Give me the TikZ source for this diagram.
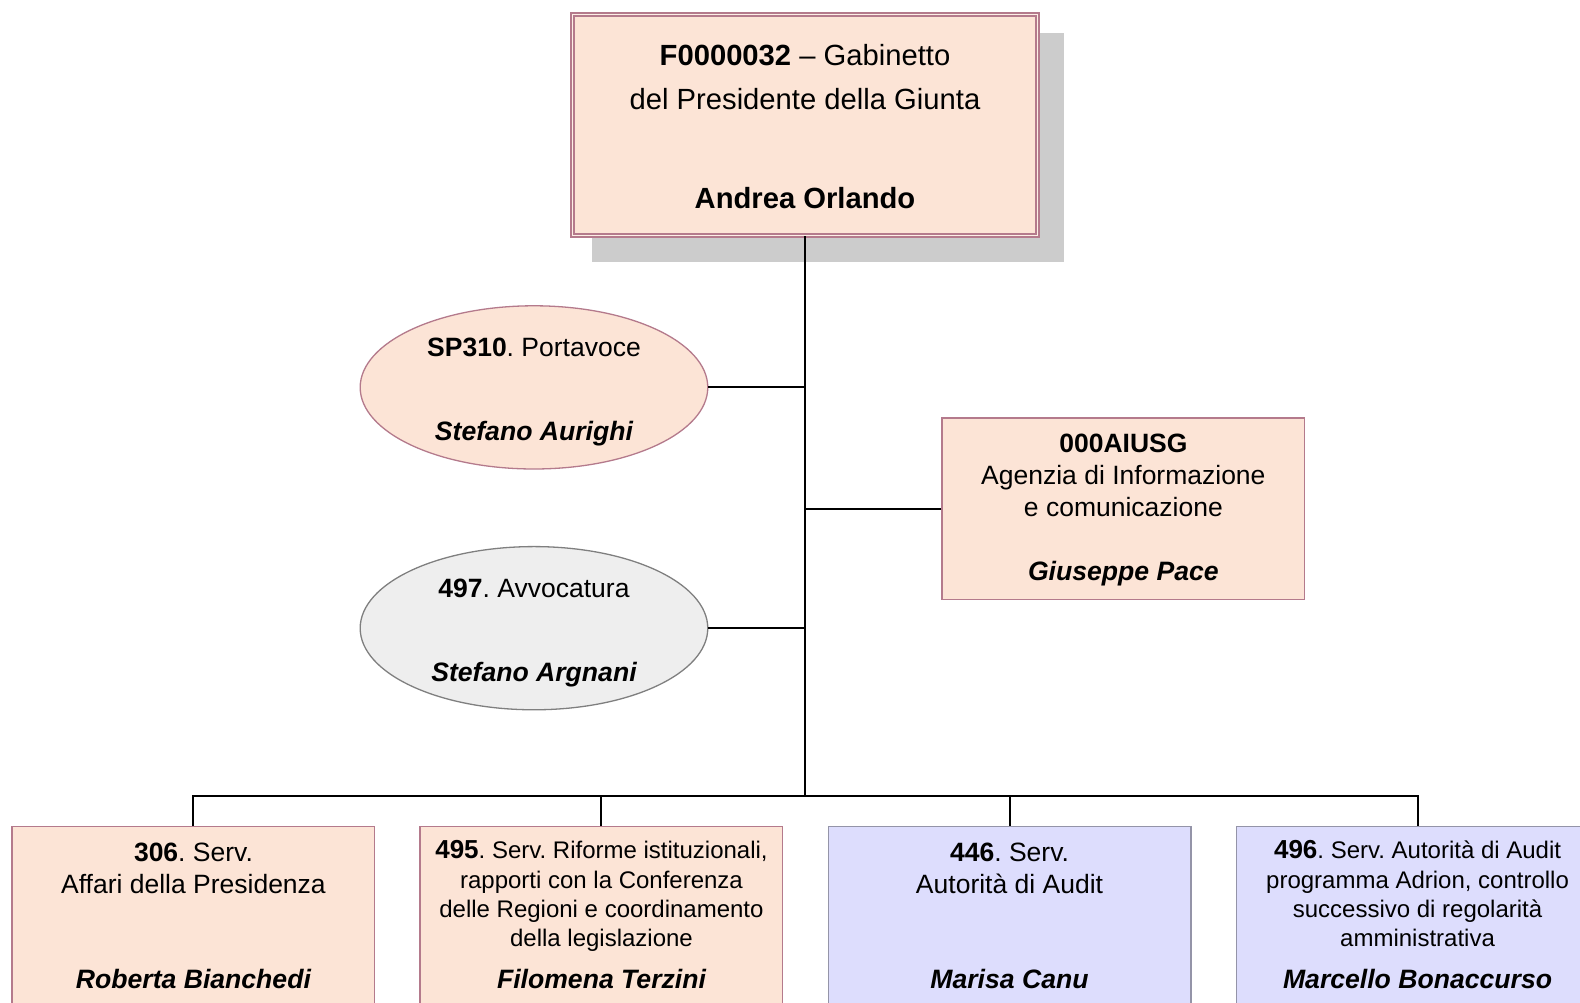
\documentclass[tikz,border=0pt]{standalone}
\usepackage{fontspec}
\setmainfont{Liberation Sans}
\usetikzlibrary{shapes.geometric}
\definecolor{peach}{HTML}{FCE4D6}
\definecolor{mauve}{HTML}{B47A8C}
\definecolor{lav}{HTML}{DDDDFD}
\definecolor{lavline}{HTML}{9494A8}
\definecolor{greyfill}{HTML}{EEEEEE}
\definecolor{greyline}{HTML}{7F7F7F}
\definecolor{shadowgrey}{HTML}{CCCCCC}
\frenchspacing
\newcommand{\bignum}[1]{{\fontsize{26}{28}\selectfont\bfseries #1}}
\begin{document}
\begin{tikzpicture}[x=1.0075pt,y=-1.0075pt,
  conn/.style={line width=2pt, draw=black},
  txt/.style={anchor=base, inner sep=0pt, font=\fontsize{26.5}{30}\selectfont},
  namefont/.style={anchor=base, inner sep=0pt, font=\fontsize{26.6}{30}\selectfont\bfseries\itshape},
  txtbig/.style={anchor=base, inner sep=0pt, font=\fontsize{29.2}{33}\selectfont},
  txtsmall/.style={anchor=base, inner sep=0pt, font=\fontsize{24}{28}\selectfont},
  peachbox/.style={rectangle, draw=mauve, fill=peach, line width=1.3pt, inner sep=0pt, minimum width=362.7, minimum height=181.4},
  lavbox/.style={rectangle, draw=lavline, fill=lav, line width=1.3pt, inner sep=0pt, minimum width=362.7, minimum height=302},
  ovalnode/.style={ellipse, line width=1.3pt, inner sep=0pt, minimum width=347.6, minimum height=163.2}
]
\useasboundingbox (0pt,0pt) rectangle (1580pt,-1002pt);
\clip (0pt,0pt) rectangle (1580pt,-1002pt);

% shadow of top box
\fill[shadowgrey] (588,33) rectangle (1056,260);

% shapes
\node[rectangle, draw=mauve, fill=peach, line width=1.8pt, double=peach!60!white, double distance=1.2pt, inner sep=0pt, minimum width=465.1, minimum height=221.2] (top) at (799,124) {};
\node[ovalnode, draw=mauve, fill=peach] (sp) at (530,384.5) {};
\node[ovalnode, draw=greyline, fill=greyfill] (av) at (530,623.5) {};
\node[peachbox] (ag) at (1115,505) {};
\node[peachbox, minimum height=302] (b1) at (192,970) {};
\node[peachbox, minimum height=302] (b2) at (597,970) {};
\node[lavbox] (b3) at (1002,970) {};
\node[lavbox] (b4) at (1407,970) {};

% connectors
\coordinate (bus) at (799,790);
\draw[conn] (top.south) -- (bus);
\draw[conn] (sp.east) -- (sp.east -| bus);
\draw[conn] (ag.west) -- (ag.west -| bus);
\draw[conn] (av.east) -- (av.east -| bus);
\draw[conn] (b1.north) -- (b1.north |- bus) -- (b4.north |- bus) -- (b4.north);
\draw[conn] (b2.north) -- (b2.north |- bus);
\draw[conn] (b3.north) -- (b3.north |- bus);

% texts: top
\node[txtbig] (t1) at (799,65) {\textbf{F0000032} -- Gabinetto};
\node[txtbig] (t2) at (799,109) {del Presidente della Giunta};
\node[txtbig, font=\fontsize{29.2}{33}\selectfont\bfseries] (t3) at (799,207) {Andrea Orlando};

% ellipses
\node[txt] (s1) at (530,354) {\textbf{SP310}. Portavoce};
\node[namefont] (s2) at (530,437) {Stefano Aurighi};
\node[txt] (a1) at (530,593) {\textbf{497}. Avvocatura};
\node[namefont] (a2) at (530,676) {Stefano Argnani};

% right box
\node[txt, font=\fontsize{26.5}{30}\selectfont\bfseries] (g1) at (1115,449) {000AIUSG};
\node[txt] (g2) at (1115,481) {Agenzia di Informazione};
\node[txt] (g3) at (1115,513) {e comunicazione};
\node[namefont] (g4) at (1115,576) {Giuseppe Pace};

% bottom box 1
\node[txt] (p1) at (192,855) {\textbf{306}. Serv.};
\node[txt] (p2) at (192,887) {Affari della Presidenza};
\node[namefont] (p3) at (192,981) {Roberta Bianchedi};

% bottom box 2
\node[txtsmall] (q1) at (597,852) {\bignum{495}. Serv. Riforme istituzionali,};
\node[txtsmall] (q2) at (597,882) {rapporti con la Conferenza};
\node[txtsmall] (q3) at (597,911) {delle Regioni e coordinamento};
\node[txtsmall] (q4) at (597,939) {della legislazione};
\node[namefont] (q5) at (597,981) {Filomena Terzini};

% bottom box 3
\node[txt] (r1) at (1002,855) {\textbf{446}. Serv.};
\node[txt] (r2) at (1002,887) {Autorità di Audit};
\node[namefont] (r3) at (1002,981) {Marisa Canu};

% bottom box 4
\node[txtsmall] (m1) at (1407,852) {\bignum{496}. Serv. Autorità di Audit};
\node[txtsmall] (m2) at (1407,882) {programma Adrion, controllo};
\node[txtsmall] (m3) at (1407,911) {successivo di regolarità};
\node[txtsmall] (m4) at (1407,939) {amministrativa};
\node[namefont] (m5) at (1407,981) {Marcello Bonaccurso};
\end{tikzpicture}
\end{document}
